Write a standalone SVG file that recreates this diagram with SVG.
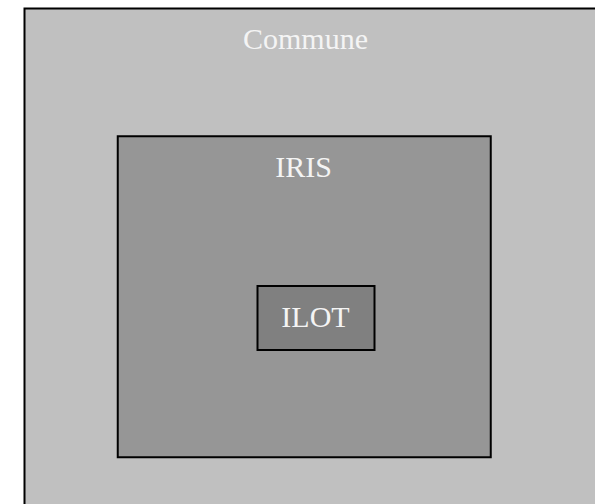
<svg xmlns="http://www.w3.org/2000/svg" width="595" height="504" viewBox="0 0 595 504">
<style>
.box{stroke:#000;stroke-width:2}
.lbl{font-family:"Liberation Serif",serif;font-size:30px;fill:#f4f4f4;text-anchor:middle}
</style>
<rect width="595" height="504" fill="#fff"/>
<g id="commune">
<rect class="box" x="24.5" y="8.5" width="600" height="520" fill="#c0c0c0"/>
<text class="lbl" x="305.5" y="49">Commune</text>
</g>
<g id="iris">
<rect class="box" x="117.75" y="136.25" width="373" height="321" fill="#969696"/>
<text class="lbl" x="303.5" y="176.5">IRIS</text>
</g>
<g id="ilot">
<rect class="box" x="257.5" y="286" width="117" height="64" fill="#808080"/>
<text class="lbl" x="315.5" y="326.5">ILOT</text>
</g>
<g id="connectors"/>
</svg>
